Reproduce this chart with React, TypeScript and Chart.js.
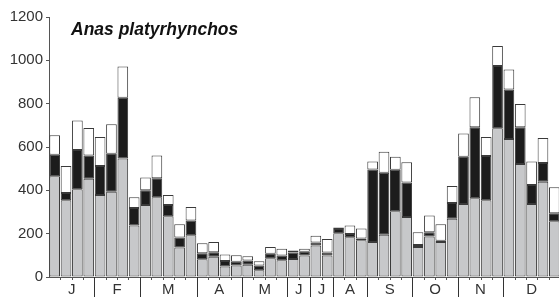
import { useEffect, useRef } from 'react';
import { Chart, registerables } from 'chart.js';

Chart.register(...registerables);

const months = ['J', 'F', 'M', 'A', 'M', 'J', 'J', 'A', 'S', 'O', 'N', 'D'];
const barsPerMonth = [4, 4, 5, 4, 4, 2, 2, 3, 4, 4, 4, 5];

// bottom (grey) segment
const greyValues = [
  465, 354, 405, 453, 379, 393, 547, 238, 332, 368, 280, 136, 193,
  82, 94, 48, 53, 56, 31, 87, 77, 83, 99, 145, 99, 202, 184, 170,
  161, 195, 303, 277, 139, 187, 162, 269, 337, 363, 354, 686, 637, 521, 337, 440, 257,
];
// middle (black) segment
const blackValues = [
  99, 34, 181, 108, 133, 176, 280, 80, 68, 88, 52, 46, 68,
  28, 20, 26, 17, 20, 22, 20, 22, 30, 18, 14, 14, 19, 14, 8,
  335, 286, 192, 159, 9, 20, 5, 73, 218, 328, 205, 288, 228, 170, 88, 86, 37,
];
// top (white) segment
const whiteValues = [
  90, 124, 136, 127, 134, 136, 145, 50, 59, 105, 47, 62, 62,
  46, 47, 30, 30, 20, 20, 31, 31, 9, 13, 31, 62, 8, 40, 46,
  37, 97, 60, 94, 59, 77, 77, 78, 107, 139, 87, 92, 93, 108, 108, 115, 120,
];

const yTicks = [0, 200, 400, 600, 800, 1000, 1200];
const titleText = 'Anas platyrhynchos';

const categories: string[] = [];
months.forEach((m, i) => {
  for (let k = 0; k < barsPerMonth[i]; k++) categories.push(`${m}${k + 1}`);
});

const FONT = "'Liberation Sans', Arial, sans-serif";
const BORDER = '#3a3a3a';

const monthPlugin = {
  id: 'monthAxis',
  afterDraw(chart: any) {
    const { ctx, chartArea, scales } = chart;
    const x = scales.x;
    const n = categories.length;
    const pitch = n > 1 ? x.getPixelForValue(1) - x.getPixelForValue(0) : 10;
    const boundary = (i: number) => x.getPixelForValue(i) - pitch / 2;
    const bottom = chartArea.bottom;
    ctx.save();
    // small ticks at each bar boundary
    ctx.strokeStyle = '#555';
    ctx.lineWidth = 1;
    for (let i = 1; i < n; i++) {
      const px = Math.round(boundary(i)) + 0.5;
      ctx.beginPath();
      ctx.moveTo(px, bottom);
      ctx.lineTo(px, bottom + 3);
      ctx.stroke();
    }
    // month separators and labels
    let start = 0;
    ctx.font = `15px ${FONT}`;
    ctx.fillStyle = '#333';
    ctx.textAlign = 'center';
    ctx.textBaseline = 'middle';
    barsPerMonth.forEach((cnt, mi) => {
      const end = start + cnt;
      const left = boundary(start);
      const right = boundary(end);
      if (end < n) {
        const px = Math.round(right) + 0.5;
        ctx.strokeStyle = '#333';
        ctx.beginPath();
        ctx.moveTo(px, bottom);
        ctx.lineTo(px, bottom + 20);
        ctx.stroke();
      }
      ctx.fillText(months[mi], (left + right) / 2, bottom + 13);
      start = end;
    });
    // title
    ctx.font = `italic bold 17.5px ${FONT}`;
    ctx.fillStyle = '#111';
    ctx.textAlign = 'left';
    ctx.textBaseline = 'alphabetic';
    ctx.fillText(titleText, chartArea.left + 22, chartArea.top + 17.5);
    ctx.restore();
  },
};

export default function App() {
  const ref = useRef<HTMLCanvasElement>(null);
  useEffect(() => {
    document.body.style.margin = '0';
    const common = {
      borderColor: BORDER,
      borderWidth: 1,
      borderSkipped: false as const,
      barPercentage: 0.94,
      categoryPercentage: 1.0,
    };
    const chart = new Chart(ref.current!, {
      type: 'bar',
      data: {
        labels: categories,
        datasets: [
          { label: 'grey', data: greyValues, backgroundColor: '#c7c8ca', ...common },
          { label: 'black', data: blackValues, backgroundColor: '#1c1c1c', ...common },
          { label: 'white', data: whiteValues, backgroundColor: '#ffffff', ...common },
        ],
      },
      options: {
        responsive: false,
        animation: false,
        devicePixelRatio: 1,
        layout: { padding: { top: 17, left: 0, right: 0, bottom: 0 } },
        plugins: { legend: { display: false }, tooltip: { enabled: false }, title: { display: false } },
        scales: {
          x: {
            stacked: true,
            grid: { display: false },
            ticks: { display: false },
            border: { display: true, color: '#555', width: 1 },
            afterFit(scale: any) {
              scale.height = 25;
            },
          },
          y: {
            stacked: true,
            min: 0,
            max: 1200,
            afterBuildTicks(scale: any) {
              scale.ticks = yTicks.map((v) => ({ value: v }));
            },
            afterFit(scale: any) {
              scale.width = 49;
            },
            grid: { drawOnChartArea: false, tickLength: 3, color: '#555' },
            border: { display: true, color: '#555', width: 1 },
            ticks: {
              padding: 3,
              color: '#333',
              font: { family: FONT, size: 15 },
              callback: (v: any) => String(v),
            },
          },
        },
      },
      plugins: [monthPlugin],
    });
    return () => chart.destroy();
  }, []);
  return (
    <div
      style={{
        position: 'fixed',
        left: 0,
        top: 0,
        width: 559,
        height: 302,
        overflow: 'hidden',
        background: '#fff',
      }}
    >
      <canvas ref={ref} width={560} height={302} style={{ display: 'block', width: 560, height: 302 }} />
    </div>
  );
}
